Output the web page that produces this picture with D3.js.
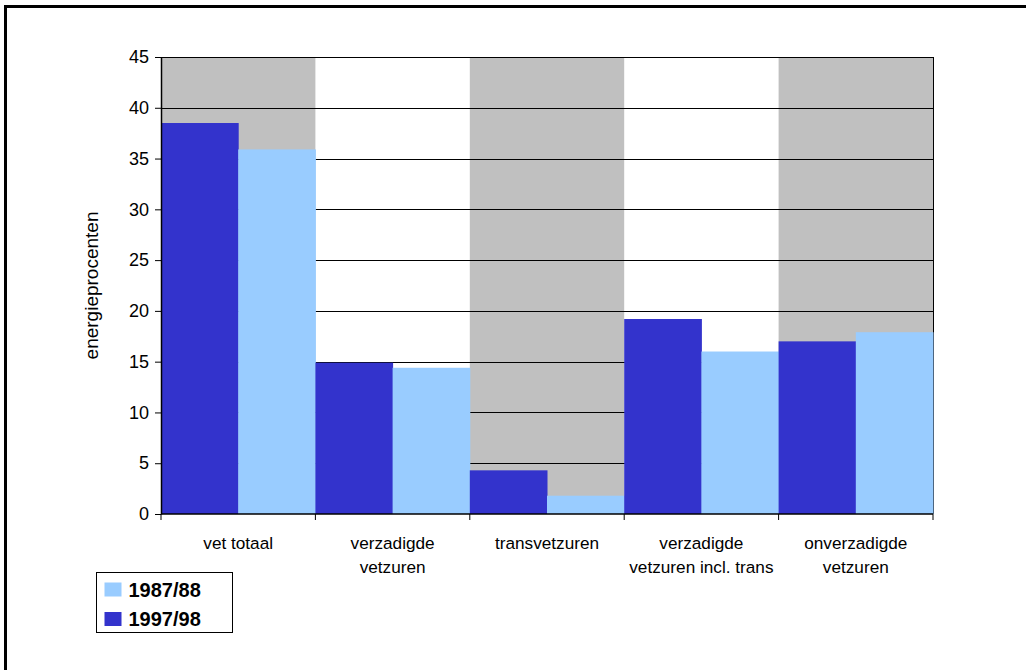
<!DOCTYPE html>
<html>
<head>
<meta charset="utf-8">
<script src="https://cdn.jsdelivr.net/npm/d3@7"></script>
<style>
  html, body { margin: 0; padding: 0; background: #fff; }
  svg { display: block; font-family: Arial, "Liberation Sans", sans-serif; }
</style>
</head>
<body>
<svg id="chart" width="1026" height="670"></svg>
<script>
// Fat intake in energy percent, two survey periods
const categories = [
  ["vet totaal"],
  ["verzadigde", "vetzuren"],
  ["transvetzuren"],
  ["verzadigde", "vetzuren incl. trans"],
  ["onverzadigde", "vetzuren"]
];
const series = ["1997/98", "1987/88"];
const values1997 = [38.5, 14.9, 4.3, 19.2, 17.0];
const values1987 = [35.9, 14.4, 1.8, 16.0, 17.9];
const yTicks = [0, 5, 10, 15, 20, 25, 30, 35, 40, 45];
const legendOrder = ["1987/88", "1997/98"];
const colors = { "1997/98": "#3333CC", "1987/88": "#99CCFF" };

const svg = d3.select("#chart");
const margin = { left: 161, right: 93, top: 57, bottom: 156 };
const W = 1026, H = 670;
const plotW = W - margin.left - margin.right;
const plotH = H - margin.top - margin.bottom;

// Outer frame: top and left edges
svg.append("line").attr("x1", 4).attr("x2", W).attr("y1", 6.5).attr("y2", 6.5)
  .attr("stroke", "#000").attr("stroke-width", 3);
svg.append("line").attr("x1", 5.5).attr("x2", 5.5).attr("y1", 5).attr("y2", H)
  .attr("stroke", "#000").attr("stroke-width", 3);

const g = svg.append("g").attr("transform", `translate(${margin.left},${margin.top})`);

const idx = d3.range(categories.length);
const x = d3.scaleBand().domain(idx).range([0, plotW]).padding(0);
const xs = d3.scaleBand().domain(series).range([0, x.bandwidth()]).padding(0);
const y = d3.scaleLinear().domain([0, 45]).range([plotH, 0]);

// Alternating gray category bands
g.selectAll("rect.band").data(idx.filter(i => i % 2 === 0)).join("rect")
  .attr("class", "band")
  .attr("x", i => x(i)).attr("y", 0)
  .attr("width", x.bandwidth()).attr("height", plotH)
  .attr("fill", "#C0C0C0");

// Horizontal gridlines
g.selectAll("line.grid").data(yTicks.filter(t => t > 0)).join("line")
  .attr("class", "grid")
  .attr("x1", 0).attr("x2", plotW)
  .attr("y1", d => Math.round(y(d)) + 0.5).attr("y2", d => Math.round(y(d)) + 0.5)
  .attr("stroke", "#000").attr("stroke-width", 1);

// Plot area right border
g.append("line").attr("x1", plotW + 0.5).attr("x2", plotW + 0.5)
  .attr("y1", 0).attr("y2", plotH).attr("stroke", "#000");

// Bars
const rows = idx.map(i => ({ i, vals: [
  { s: "1997/98", v: values1997[i] },
  { s: "1987/88", v: values1987[i] }
]}));
g.selectAll("g.cat").data(rows).join("g")
  .attr("class", "cat")
  .attr("transform", d => `translate(${x(d.i)},0)`)
  .selectAll("rect").data(d => d.vals).join("rect")
  .attr("x", d => xs(d.s))
  .attr("y", d => y(d.v))
  .attr("width", xs.bandwidth() + 0.5)
  .attr("height", d => plotH - y(d.v))
  .attr("fill", d => colors[d.s]);

// Y axis
const yAxis = g.append("g")
  .call(d3.axisLeft(y).tickValues(yTicks).tickSize(6).tickPadding(6).tickSizeOuter(0));
yAxis.select(".domain").attr("stroke", "#000").attr("stroke-width", 1.5);
yAxis.selectAll(".tick line").attr("stroke", "#000");
yAxis.selectAll(".tick text").attr("font-size", "18px").attr("fill", "#000")
  .attr("font-family", "Arial, 'Liberation Sans', sans-serif");

// X axis
const xAxis = g.append("g").attr("transform", `translate(0,${plotH})`);
xAxis.append("line").attr("x1", 0).attr("x2", plotW).attr("y1", 0).attr("y2", 0)
  .attr("stroke", "#000").attr("stroke-width", 1.5);
xAxis.selectAll("line.xt").data(d3.range(categories.length + 1)).join("line")
  .attr("class", "xt")
  .attr("x1", k => k === categories.length ? plotW : x(k))
  .attr("x2", k => k === categories.length ? plotW : x(k))
  .attr("y1", 0).attr("y2", 6).attr("stroke", "#000");
xAxis.selectAll("text.xl").data(idx).join("text")
  .attr("class", "xl")
  .attr("x", i => x(i) + x.bandwidth() / 2)
  .attr("y", 35)
  .attr("text-anchor", "middle")
  .attr("font-size", "17.2px")
  .attr("fill", "#000")
  .selectAll("tspan").data(i => categories[i]).join("tspan")
  .attr("x", function() { return d3.select(this.parentNode).attr("x"); })
  .attr("dy", (d, k) => k === 0 ? 0 : 24)
  .text(d => d);

// Y axis title
svg.append("text")
  .attr("transform", `translate(98,${margin.top + plotH / 2}) rotate(-90)`)
  .attr("text-anchor", "middle")
  .attr("font-size", "19px")
  .attr("fill", "#000")
  .text("energieprocenten");

// Legend
const lg = svg.append("g").attr("transform", "translate(96.5,572.5)");
lg.append("rect").attr("width", 136).attr("height", 60)
  .attr("fill", "#fff").attr("stroke", "#000").attr("stroke-width", 1);
const items = lg.selectAll("g.item").data(legendOrder).join("g")
  .attr("class", "item")
  .attr("transform", (d, k) => `translate(8,${10 + k * 29.5})`);
items.append("rect").attr("width", 17).attr("height", 14).attr("fill", d => colors[d]);
items.append("text").attr("x", 24).attr("y", 14)
  .attr("font-size", "20px").attr("font-weight", "bold").attr("fill", "#000")
  .text(d => d);
</script>
</body>
</html>
